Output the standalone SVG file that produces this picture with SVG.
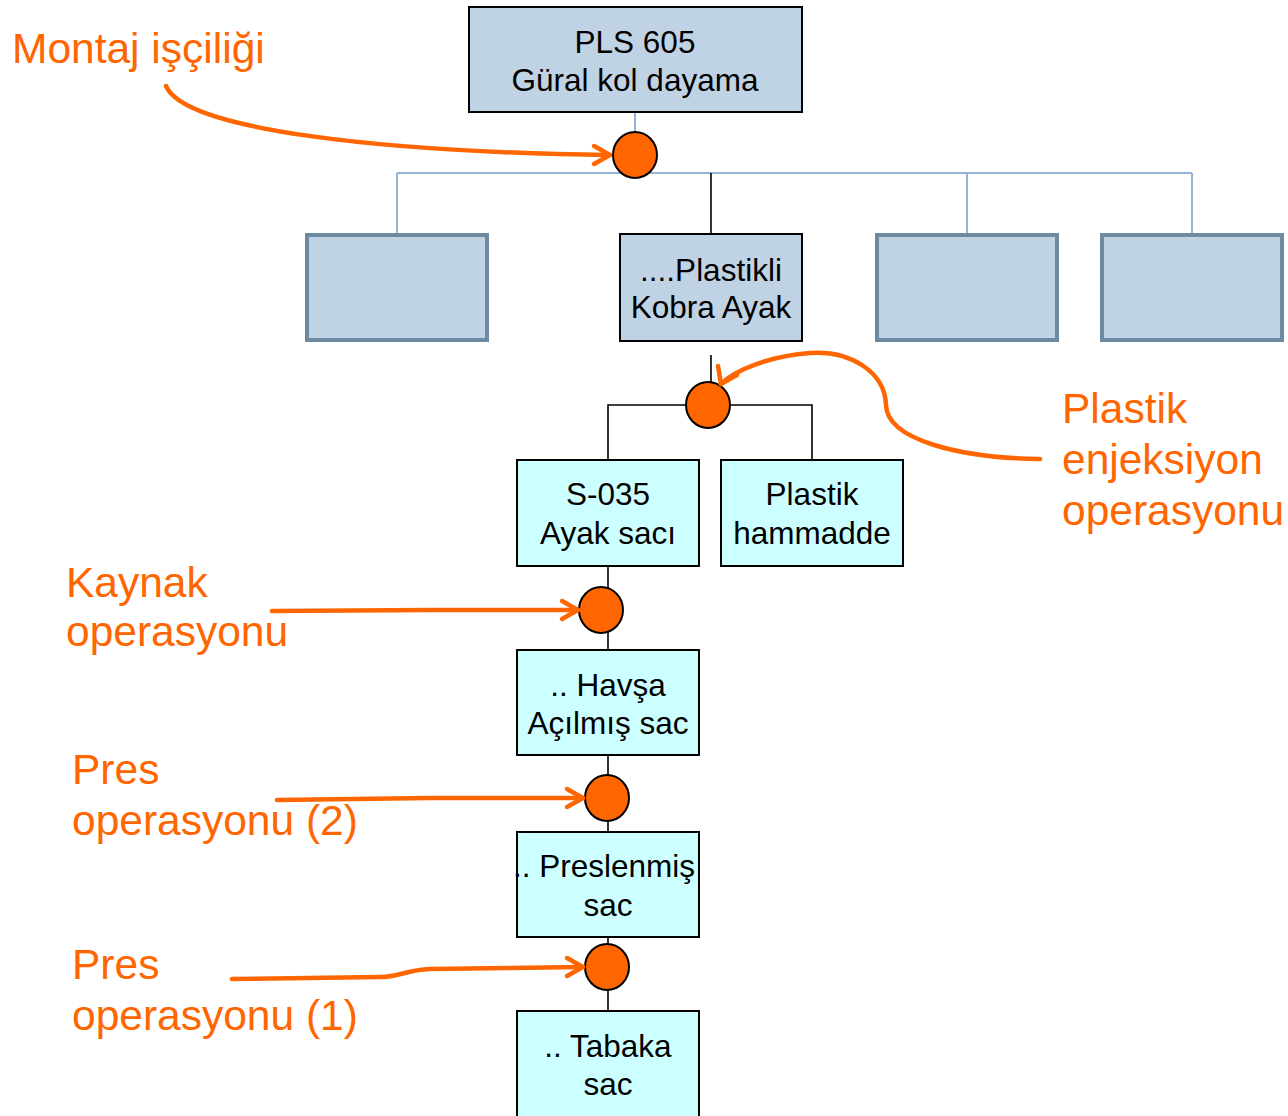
<svg xmlns="http://www.w3.org/2000/svg" width="1288" height="1116" viewBox="0 0 1288 1116">
<defs>
<style>
.blue{fill:#C0D3E4;stroke:#000;stroke-width:2}
.blueth{fill:#C0D3E4;stroke:#6E8AA0;stroke-width:4}
.cyan{fill:#CCFFFF;stroke:#000;stroke-width:2}
.t{font-family:"Liberation Sans",Arial,sans-serif;font-size:31.5px;fill:#000;text-anchor:middle}
.o{font-family:"Liberation Sans",Arial,sans-serif;font-size:42.5px;fill:#FF6600}
.op{fill:#FF6600;stroke:#000;stroke-width:2}
.lb{stroke:#95B3D7;stroke-width:2;fill:none}
.lk{stroke:#000;stroke-width:1.6;fill:none}
.ar{stroke:#FF6600;stroke-width:4.5;fill:none;stroke-linecap:round;stroke-linejoin:round}
</style>
</defs>
<g id="connectors">
<path class="lb" d="M635,112 V134"/>
<path class="lb" d="M397,173 H1192 M397,173 V234 M967,173 V234 M1192,173 V234"/>
<path class="lk" d="M711,173 V234"/>
<path class="lk" d="M711,355 V384"/>
<path class="lk" d="M608,460 V405 H812 V460"/>
<path class="lk" d="M608,566 V650"/>
<path class="lk" d="M608,755 V832"/>
<path class="lk" d="M608,937 V1011"/>
</g>
<g id="n-top"><rect class="blue" x="469" y="7" width="333" height="105"/><text class="t" x="635" y="53">PLS 605</text><text class="t" x="635" y="91">Güral kol dayama</text></g>
<g id="n-b1"><rect class="blueth" x="307" y="235" width="180" height="105"/></g>
<g id="n-kobra"><rect class="blue" x="620" y="234" width="182" height="107"/><text class="t" x="711" y="281">....Plastikli</text><text class="t" x="711" y="318">Kobra Ayak</text></g>
<g id="n-b3"><rect class="blueth" x="877" y="235" width="180" height="105"/></g>
<g id="n-b4"><rect class="blueth" x="1102" y="235" width="180" height="105"/></g>
<g id="n-s035"><rect class="cyan" x="517" y="460" width="182" height="106"/><text class="t" x="608" y="505">S-035</text><text class="t" x="608" y="544">Ayak sacı</text></g>
<g id="n-plastik"><rect class="cyan" x="721" y="460" width="182" height="106"/><text class="t" x="812" y="505">Plastik</text><text class="t" x="812" y="544">hammadde</text></g>
<g id="n-havsa"><rect class="cyan" x="517" y="650" width="182" height="105"/><text class="t" x="608" y="696">.. Havşa</text><text class="t" x="608" y="734">Açılmış sac</text></g>
<g id="n-pres"><rect class="cyan" x="517" y="832" width="182" height="105"/><text class="t" x="604" y="877">.. Preslenmiş</text><text class="t" x="608" y="916">sac</text></g>
<g id="n-tabaka"><rect class="cyan" x="517" y="1011" width="182" height="110"/><text class="t" x="608" y="1057">.. Tabaka</text><text class="t" x="608" y="1095">sac</text></g>
<g id="ops">
<ellipse class="op" cx="635" cy="155" rx="22" ry="23"/>
<ellipse class="op" cx="708" cy="405" rx="22" ry="23"/>
<ellipse class="op" cx="601" cy="610" rx="22" ry="23"/>
<ellipse class="op" cx="607" cy="798" rx="22" ry="23"/>
<ellipse class="op" cx="607" cy="967" rx="22" ry="23"/>
</g>
<g id="labels">
<text class="o" x="12" y="63">Montaj işçiliği</text>
<text class="o" x="1062" y="423">Plastik</text>
<text class="o" x="1062" y="474">enjeksiyon</text>
<text class="o" x="1062" y="525">operasyonu</text>
<text class="o" x="66" y="597">Kaynak</text>
<text class="o" x="66" y="646">operasyonu</text>
<text class="o" x="72" y="784">Pres</text>
<text class="o" x="72" y="835">operasyonu (2)</text>
<text class="o" x="72" y="979">Pres</text>
<text class="o" x="72" y="1030">operasyonu (1)</text>
</g>
<g id="arrows">
<path class="ar" d="M166,86 C185,130 380,152 610,155"/>
<path class="ar" d="M594,146 L610,155 L594,164"/>
<path class="ar" d="M1040,459 C960,458 887,440 886,405 C885,372 850,350 810,353 C770,356 735,370 721,384"/>
<path class="ar" d="M718,366 L721,384 L737,375"/>
<path class="ar" d="M272,611 L430,610 L578,610"/>
<path class="ar" d="M562,601 L578,610 L562,619"/>
<path class="ar" d="M277,800 L430,798 L583,798"/>
<path class="ar" d="M567,789 L583,798 L567,807"/>
<path class="ar" d="M232,979 L380,977 C400,977 405,970 430,969 L583,967"/>
<path class="ar" d="M567,958 L583,967 L567,976"/>
</g>
</svg>
